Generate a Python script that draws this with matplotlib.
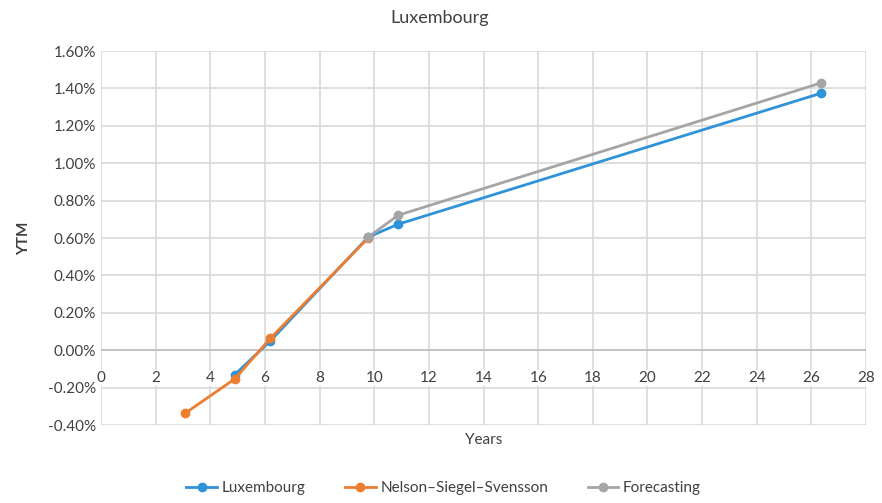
import matplotlib
matplotlib.use("Agg")
import matplotlib.pyplot as plt
from matplotlib.ticker import FuncFormatter, MultipleLocator

plt.rcParams["font.family"] = ["Lato", "DejaVu Sans"]

# values (years, YTM in %)
lux_years = [4.9, 6.2, 9.78, 10.88, 26.37]
lux_ytm = [-0.13, 0.05, 0.605, 0.674, 1.375]

nss_years = [3.08, 4.9, 6.2, 9.78]
nss_ytm = [-0.337, -0.153, 0.064, 0.600]

fc_years = [9.78, 10.88, 26.37]
fc_ytm = [0.605, 0.722, 1.430]

x_ticks = list(range(0, 29, 2))

BLUE = "#2E93D9"
ORANGE = "#ED7D31"
GRAY = "#A5A5A5"
GRID = "#D9D9D9"
TEXT = "#404040"

fig = plt.figure(figsize=(8.82, 5.03), dpi=100)
ax = fig.add_axes([0.1145, 0.155, 0.8674, 0.7436])

ax.plot(lux_years, lux_ytm, color=BLUE, lw=2, marker="o", ms=6, label="Luxembourg", zorder=3)
ax.plot(nss_years, nss_ytm, color=ORANGE, lw=2, marker="o", ms=6, label="Nelson\u2013Siegel\u2013Svensson", zorder=4)
ax.plot(fc_years, fc_ytm, color=GRAY, lw=2, marker="o", ms=6, label="Forecasting", zorder=5)

ax.set_xlim(0, 28)
ax.set_ylim(-0.4, 1.6)
ax.set_xticks(x_ticks)
ax.yaxis.set_major_locator(MultipleLocator(0.2))
ax.yaxis.set_major_formatter(FuncFormatter(lambda v, p: f"{v:.2f}%"))

ax.grid(True, color=GRID, lw=1.2)
ax.set_axisbelow(True)
for s in ax.spines.values():
    s.set_visible(False)
ax.axhline(0, color="#BFBFBF", lw=1.3, zorder=1)

# x tick labels sit just under the zero line, Excel style
ax.tick_params(axis="both", length=0, labelsize=11, colors=TEXT)
ax.tick_params(axis="x", pad=-39)
for lbl in ax.get_xticklabels():
    lbl.set_bbox(dict(facecolor="white", edgecolor="none", pad=0.5))

ax.set_ylabel("YTM", fontsize=11, color=TEXT, fontweight="bold", labelpad=12)
ax.set_xlabel("Years", fontsize=11, color=TEXT, labelpad=6)
fig.text(0.499, 0.965, "Luxembourg", ha="center", va="center", fontsize=13, color=TEXT)

fig.legend(loc="center", bbox_to_anchor=(0.503, 0.03), ncol=3, frameon=False,
           fontsize=11, handlelength=2.0, handletextpad=0.3, columnspacing=2.6,
           labelcolor=TEXT)

fig.savefig("out.png", dpi=100)
